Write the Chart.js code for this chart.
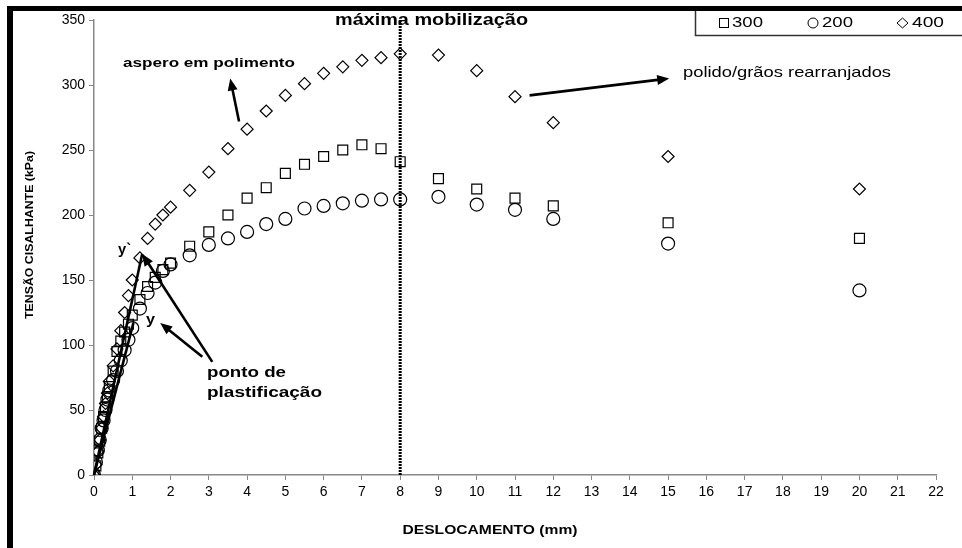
<!DOCTYPE html>
<html>
<head>
<meta charset="utf-8">
<script src="https://cdn.jsdelivr.net/npm/chart.js@4.4.0/dist/chart.umd.min.js"></script>
<style>
  html, body { margin: 0; padding: 0; background: #fff; }
</style>
</head>
<body>
<canvas id="grafico" width="962" height="548"></canvas>
<script>
// deslocamento (mm) - mesmo para as tres series
const desl = [0, 0.05, 0.1, 0.15, 0.2, 0.25, 0.3, 0.35, 0.4, 0.5, 0.6, 0.7, 0.8, 0.9, 1.0,
  1.2, 1.4, 1.6, 1.8, 2.0, 2.5, 3, 3.5, 4, 4.5, 5, 5.5, 6, 6.5, 7, 7.5, 8, 9, 10, 11, 12, 15, 20];

// tensao cisalhante (kPa)
const tens300 = [0, 7, 17, 26, 36, 45, 52, 60, 68, 80, 95, 103, 110, 116, 123,
  135, 145, 152, 158, 163, 176, 187, 200, 213, 221, 232, 239, 245, 250, 254, 251, 241, 228, 220, 213, 207, 194, 182];
const tens200 = [0, 10, 19, 27, 36, 42, 50, 58, 65, 73, 80, 88, 96, 104, 113,
  128, 140, 148, 157, 162, 169, 177, 182, 187, 193, 197, 205, 207, 209, 211, 212, 212, 214, 208, 204, 197, 178, 142];
const tens400 = [0, 8, 18, 27, 36, 45, 55, 63, 72, 84, 97, 111, 125, 138, 150,
  167, 182, 193, 200, 206, 219, 233, 251, 266, 280, 292, 301, 309, 314, 319, 321, 324, 323, 311, 291, 271, 245, 220];

const legendas = ['300', '200', '400'];
const xMax = 22;
const yMax = 350;
const mobilizacao = 8;

const pontos = (ys) => desl.map((x, i) => ({ x: x, y: ys[i] }));

// setas de anotacao, em coordenadas de dados [x1, y1, x2, y2, comPonta]
const setas = [
  [3.79, 272, 3.56, 305, true],
  [11.38, 292, 15.03, 305, true],
  [3.09, 87, 1.26, 170, true],
  [2.83, 91, 1.73, 117, true],
  [0, 0, 1.26, 170, false],
  [0, 0, 1.03, 117, false]
];

// escreve texto ajustado a uma largura
function textoAjustado(ctx, txt, x, y, largura, fonte, alinh, rot) {
  ctx.save();
  ctx.font = fonte;
  const m = ctx.measureText(txt).width;
  ctx.translate(x, y);
  if (rot) ctx.rotate(rot);
  ctx.scale(largura / m, 1);
  ctx.textAlign = alinh || 'left';
  ctx.textBaseline = 'middle';
  ctx.fillStyle = '#000';
  ctx.fillText(txt, 0, 0);
  ctx.restore();
}

function seta(ctx, x1, y1, x2, y2, ponta) {
  const ang = Math.atan2(y2 - y1, x2 - x1);
  const comp = 12, larg = 5;
  const fimX = ponta ? x2 - Math.cos(ang) * comp * 0.8 : x2;
  const fimY = ponta ? y2 - Math.sin(ang) * comp * 0.8 : y2;
  ctx.beginPath();
  ctx.moveTo(x1, y1);
  ctx.lineTo(fimX, fimY);
  ctx.stroke();
  if (ponta) {
    ctx.beginPath();
    ctx.moveTo(x2, y2);
    ctx.lineTo(x2 - Math.cos(ang) * comp + Math.sin(ang) * larg, y2 - Math.sin(ang) * comp - Math.cos(ang) * larg);
    ctx.lineTo(x2 - Math.cos(ang) * comp - Math.sin(ang) * larg, y2 - Math.sin(ang) * comp + Math.cos(ang) * larg);
    ctx.closePath();
    ctx.fill();
  }
}

const anotacoes = {
  id: 'anotacoes',
  afterDatasetsDraw(chart) {
    const ctx = chart.ctx;
    const sx = chart.scales.x, sy = chart.scales.y;

    ctx.save();
    ctx.strokeStyle = '#000';
    ctx.fillStyle = '#000';
    ctx.lineWidth = 2.6;
    setas.forEach(s => {
      seta(ctx, sx.getPixelForValue(s[0]), sy.getPixelForValue(s[1]),
        sx.getPixelForValue(s[2]), sy.getPixelForValue(s[3]), s[4]);
    });
    ctx.restore();

    textoAjustado(ctx, 'máxima mobilização', 335, 21, 193, 'bold 16px "Liberation Sans", Arial', 'left');
    textoAjustado(ctx, 'aspero em polimento', 123, 64, 172, 'bold 12px "Liberation Sans", Arial', 'left');
    textoAjustado(ctx, 'polido/grãos rearranjados', 683, 73, 208, '15px "Liberation Sans", Arial', 'left');
    textoAjustado(ctx, 'y`', 118, 250, 13, 'bold 15px "Liberation Sans", Arial', 'left');
    textoAjustado(ctx, 'y', 146, 320, 9, 'bold 15px "Liberation Sans", Arial', 'left');
    textoAjustado(ctx, 'ponto de', 207, 373, 79, 'bold 15px "Liberation Sans", Arial', 'left');
    textoAjustado(ctx, 'plastificação', 207, 393, 115, 'bold 15px "Liberation Sans", Arial', 'left');
    textoAjustado(ctx, 'DESLOCAMENTO (mm)', 490, 531, 175, 'bold 12px "Liberation Sans", Arial', 'center');
    textoAjustado(ctx, 'TENSÃO CISALHANTE (kPa)', 30, 235, 168, 'bold 11px "Liberation Sans", Arial', 'center', -Math.PI / 2);

    // moldura preta (topo e esquerda)
    ctx.save();
    ctx.fillStyle = '#000';
    ctx.fillRect(7, 6, 955, 5);
    ctx.fillRect(7, 6, 6, 542);

    // caixa da legenda
    ctx.strokeStyle = '#333';
    ctx.lineWidth = 1.5;
    ctx.beginPath();
    ctx.moveTo(695.5, 11);
    ctx.lineTo(695.5, 35.5);
    ctx.lineTo(962, 35.5);
    ctx.stroke();

    ctx.lineWidth = 1;
    ctx.strokeStyle = '#000';
    const ly = 23;
    ctx.strokeRect(719.5, ly - 4.5, 9, 9);
    ctx.beginPath();
    ctx.arc(813, ly, 5, 0, Math.PI * 2);
    ctx.stroke();
    ctx.beginPath();
    ctx.moveTo(897, ly);
    ctx.lineTo(902.5, ly - 5);
    ctx.lineTo(908, ly);
    ctx.lineTo(902.5, ly + 5);
    ctx.closePath();
    ctx.stroke();
    ctx.restore();
    textoAjustado(ctx, legendas[0], 732, ly, 31, '15px "Liberation Sans", Arial', 'left');
    textoAjustado(ctx, legendas[1], 822, ly, 31, '15px "Liberation Sans", Arial', 'left');
    textoAjustado(ctx, legendas[2], 912, ly, 32, '15px "Liberation Sans", Arial', 'left');
  }
};

const ctx = document.getElementById('grafico');

new Chart(ctx, {
  type: 'scatter',
  data: {
    datasets: [
      {
        label: legendas[0],
        data: pontos(tens300),
        pointStyle: 'rect',
        pointRadius: 7,
        pointBorderColor: '#000',
        pointBackgroundColor: 'rgba(255,255,255,0)',
        pointBorderWidth: 1.2
      },
      {
        label: legendas[1],
        data: pontos(tens200),
        pointStyle: 'circle',
        pointRadius: 6.5,
        pointBorderColor: '#000',
        pointBackgroundColor: 'rgba(255,255,255,0)',
        pointBorderWidth: 1.2
      },
      {
        label: legendas[2],
        data: pontos(tens400),
        pointStyle: 'rectRot',
        pointRadius: 6,
        pointBorderColor: '#000',
        pointBackgroundColor: 'rgba(255,255,255,0)',
        pointBorderWidth: 1.2
      },
      {
        type: 'line',
        label: 'mobilizacao',
        data: [{ x: mobilizacao, y: 0 }, { x: mobilizacao, y: yMax + 2 }],
        borderColor: '#000',
        borderWidth: 3,
        borderDash: [2, 1],
        pointRadius: 0,
        fill: false
      }
    ]
  },
  plugins: [anotacoes],
  options: {
    responsive: false,
    animation: false,
    layout: { padding: { top: 20, right: 26, left: 0, bottom: 0 } },
    plugins: {
      legend: { display: false },
      tooltip: { enabled: false }
    },
    scales: {
      x: {
        type: 'linear',
        min: 0,
        max: xMax,
        afterFit(scale) { scale.height = 73; },
        ticks: {
          stepSize: 1,
          color: '#000',
          padding: 4,
          maxRotation: 0,
          font: { family: '"Liberation Sans", Arial', size: 14 }
        },
        grid: { drawOnChartArea: false, drawTicks: true, tickLength: 5, color: '#888' },
        border: { display: true, color: '#888', width: 1.5 }
      },
      y: {
        min: 0,
        max: yMax,
        afterFit(scale) { scale.width = 94; },
        ticks: {
          stepSize: 50,
          color: '#000',
          padding: 4,
          font: { family: '"Liberation Sans", Arial', size: 14 }
        },
        grid: { drawOnChartArea: false, drawTicks: true, tickLength: 5, color: '#888' },
        border: { display: true, color: '#888', width: 1.5 }
      }
    }
  }
});
</script>
</body>
</html>
